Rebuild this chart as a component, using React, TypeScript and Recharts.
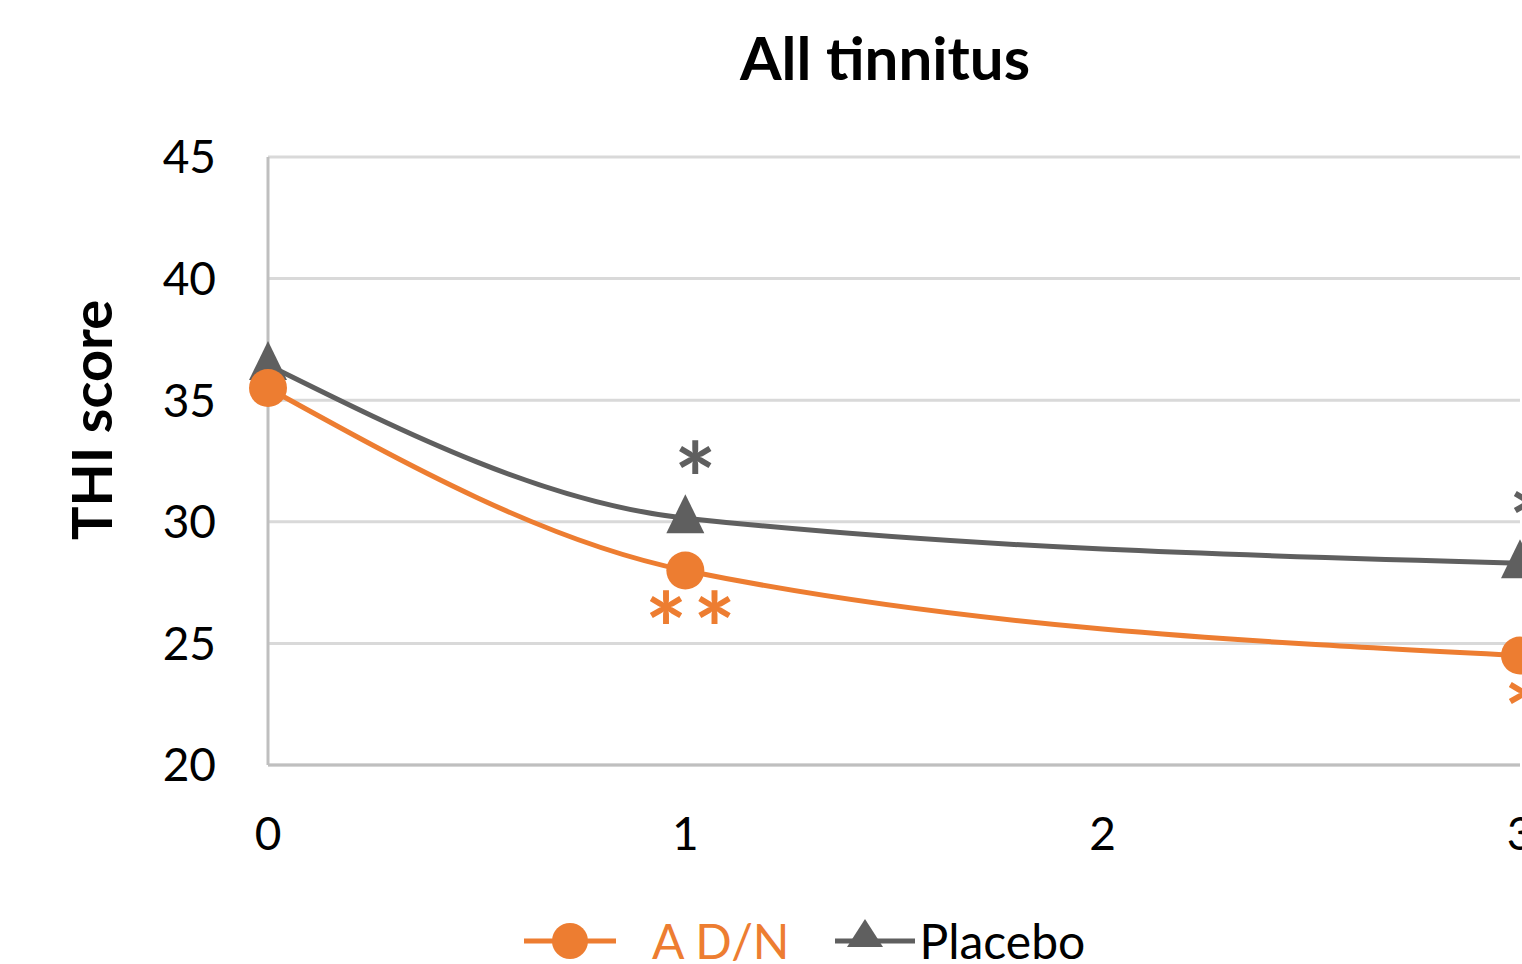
import React from 'react';
import { LineChart, Line, XAxis, YAxis, CartesianGrid, LabelList } from 'recharts';

const xValues = [0, 1, 3];
const adnValues = [35.5, 28.0, 24.5];
const placeboValues = [36.45, 30.15, 28.3];
const adnSig = ['', '**', '*'];
const placeboSig = ['', '*', '*'];
const xTicks = [0, 1, 2, 3];
const yTicks = [20, 25, 30, 35, 40, 45];

const ORANGE = '#ED7D31';
const GRAY = '#5F5F5F';
const FONT = 'Lato, "Open Sans", sans-serif';

const data = xValues.map((x, i) => ({
  x,
  adn: adnValues[i],
  placebo: placeboValues[i],
  adnSig: adnSig[i],
  placeboSig: placeboSig[i],
}));

const Triangle = (props: any) => {
  const { cx, cy } = props;
  if (cx == null || cy == null) return null;
  return <polygon points={`${cx},${cy - 24} ${cx - 19},${cy + 15} ${cx + 19},${cy + 15}`} fill={GRAY} />;
};

const Circle = (props: any) => {
  const { cx, cy } = props;
  if (cx == null || cy == null) return null;
  return <circle cx={cx} cy={cy} r={19} fill={ORANGE} />;
};

const SigAbove = (props: any) => {
  const { x, y, value } = props;
  if (!value) return null;
  return (
    <text x={x + 10} y={y - 2} textAnchor="middle" fontSize={100} fontWeight={700} fill={GRAY} fontFamily={FONT}>
      {value}
    </text>
  );
};

const SigBelow = (props: any) => {
  const { x, y, value } = props;
  if (!value) return null;
  return (
    <text x={x + 8} y={y + 96} textAnchor="middle" fontSize={100} fontWeight={700} fill={ORANGE} fontFamily={FONT} letterSpacing={6}>
      {value}
    </text>
  );
};

export default function App() {
  return (
    <div style={{ position: 'fixed', left: 0, top: 0, width: 1522, height: 964, overflow: 'hidden', background: '#fff' }}>
      <div
        style={{
          position: 'absolute', left: 885, top: 22, transform: 'translateX(-50%)', fontFamily: FONT,
          fontWeight: 700, fontSize: 60, color: '#000', whiteSpace: 'nowrap', lineHeight: '70px',
        }}
      >
        All tinnitus
      </div>
      <LineChart width={1700} height={1000} data={data} margin={{ top: 157, right: 180, left: 0, bottom: 205 }}>
        <CartesianGrid vertical={false} stroke="#D9D9D9" strokeWidth={3} />
        <XAxis
          dataKey="x"
          type="number"
          domain={[0, 3]}
          ticks={xTicks}
          tickLine={false}
          axisLine={{ stroke: '#BFBFBF', strokeWidth: 3 }}
          tick={{ fontSize: 46, fill: '#000', fontFamily: FONT }}
          tickSize={0}
          tickMargin={52}
        />
        <YAxis
          width={268}
          domain={[20, 45]}
          ticks={yTicks}
          tickLine={false}
          axisLine={{ stroke: '#BFBFBF', strokeWidth: 3 }}
          tick={{ fontSize: 46, fill: '#000', fontFamily: FONT }}
          tickSize={0}
          tickMargin={52}
          label={{
            content: () => (
              <text
                x={0}
                y={0}
                transform="translate(112,420) rotate(-90)"
                textAnchor="middle"
                fontSize={56}
                fontWeight={700}
                fontFamily={FONT}
                fill="#000"
              >
                THI score
              </text>
            ),
          }}
        />
        <Line
          type="monotone"
          dataKey="placebo"
          stroke={GRAY}
          strokeWidth={5}
          dot={<Triangle />}
          isAnimationActive={false}
        >
          <LabelList dataKey="placeboSig" content={<SigAbove />} />
        </Line>
        <Line
          type="monotone"
          dataKey="adn"
          stroke={ORANGE}
          strokeWidth={5}
          dot={<Circle />}
          isAnimationActive={false}
        >
          <LabelList dataKey="adnSig" content={<SigBelow />} />
        </Line>
      </LineChart>
      <div style={{ position: 'absolute', left: 522, top: 912, display: 'flex', alignItems: 'center', fontFamily: FONT, fontSize: 48, whiteSpace: 'nowrap' }}>
        <svg width={96} height={56} style={{ display: 'block' }}>
          <line x1={2} y1={28} x2={94} y2={28} stroke={ORANGE} strokeWidth={5} />
          <circle cx={48} cy={28} r={18} fill={ORANGE} />
        </svg>
        <span style={{ color: ORANGE, marginLeft: 34, marginRight: 44 }}>A D/N</span>
        <svg width={84} height={56} style={{ display: 'block' }}>
          <line x1={2} y1={28} x2={82} y2={28} stroke={GRAY} strokeWidth={5} />
          <polygon points="32,6 14,34 50,34" fill={GRAY} />
        </svg>
        <span style={{ color: '#000', marginLeft: 2 }}>Placebo</span>
      </div>
    </div>
  );
}
